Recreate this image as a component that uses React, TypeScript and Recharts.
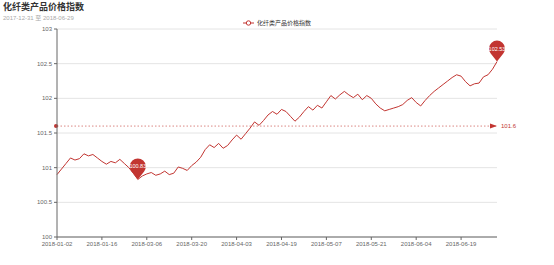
import {
  LineChart,
  Line,
  XAxis,
  YAxis,
  CartesianGrid,
  ReferenceLine,
  ReferenceDot,
} from "recharts";

const TITLE = "化纤类产品价格指数";
const SUBTITLE = "2017-12-31 至 2018-06-29";
const SERIES_NAME = "化纤类产品价格指数";

const dates = [
  "2018-01-02", "2018-01-03", "2018-01-04", "2018-01-05", "2018-01-08", "2018-01-09",
  "2018-01-10", "2018-01-11", "2018-01-12", "2018-01-15", "2018-01-16", "2018-01-17",
  "2018-01-18", "2018-01-19", "2018-01-22", "2018-01-23", "2018-01-24", "2018-01-25",
  "2018-01-26", "2018-03-05", "2018-03-06", "2018-03-07", "2018-03-08", "2018-03-09",
  "2018-03-12", "2018-03-13", "2018-03-14", "2018-03-15", "2018-03-16", "2018-03-19",
  "2018-03-20", "2018-03-21", "2018-03-22", "2018-03-23", "2018-03-26", "2018-03-27",
  "2018-03-28", "2018-03-29", "2018-03-30", "2018-04-02", "2018-04-03", "2018-04-04",
  "2018-04-09", "2018-04-10", "2018-04-11", "2018-04-12", "2018-04-13", "2018-04-16",
  "2018-04-17", "2018-04-18", "2018-04-19", "2018-04-20", "2018-04-23", "2018-04-24",
  "2018-04-25", "2018-04-26", "2018-04-27", "2018-05-02", "2018-05-03", "2018-05-04",
  "2018-05-07", "2018-05-08", "2018-05-09", "2018-05-10", "2018-05-11", "2018-05-14",
  "2018-05-15", "2018-05-16", "2018-05-17", "2018-05-18", "2018-05-21", "2018-05-22",
  "2018-05-23", "2018-05-24", "2018-05-25", "2018-05-28", "2018-05-29", "2018-05-30",
  "2018-05-31", "2018-06-01", "2018-06-04", "2018-06-05", "2018-06-06", "2018-06-07",
  "2018-06-08", "2018-06-11", "2018-06-12", "2018-06-13", "2018-06-14", "2018-06-15",
  "2018-06-19", "2018-06-20", "2018-06-21", "2018-06-22", "2018-06-25", "2018-06-26",
  "2018-06-27", "2018-06-28", "2018-06-29",
];

const values = [
  100.9, 100.98, 101.06, 101.14, 101.11, 101.13, 101.2, 101.17, 101.19, 101.14,
  101.09, 101.05, 101.09, 101.07, 101.12, 101.06, 101.0, 100.92, 100.83, 100.88,
  100.91, 100.93, 100.89, 100.91, 100.95, 100.9, 100.92, 101.01, 100.99, 100.96,
  101.03, 101.08, 101.15, 101.26, 101.33, 101.29, 101.35, 101.28, 101.32, 101.4,
  101.47, 101.41, 101.49, 101.57, 101.66, 101.61, 101.68, 101.76, 101.81, 101.77,
  101.84, 101.81, 101.74, 101.67, 101.73, 101.81, 101.88, 101.83, 101.9, 101.86,
  101.95, 102.04, 101.99, 102.05, 102.1, 102.05, 102.01, 102.06, 101.98, 102.04,
  102.0, 101.92, 101.86, 101.82, 101.84, 101.86, 101.88, 101.91, 101.97, 102.01,
  101.94, 101.89, 101.97, 102.04, 102.1, 102.15, 102.2, 102.25, 102.3, 102.34,
  102.32, 102.24, 102.18, 102.21, 102.22, 102.31, 102.34, 102.42, 102.53,
];

const yTicks = [100, 100.5, 101, 101.5, 102, 102.5, 103];
const AVERAGE = 101.6;

const RED = "#c23531";
const FONT = '"Liberation Sans", "Noto Sans CJK SC", sans-serif';

const data = dates.map((d, i) => ({ date: d, value: values[i] }));

const maxVal = Math.max(...values);
const minVal = Math.min(...values);
const maxDate = dates[values.indexOf(maxVal)];
const minDate = dates[values.indexOf(minVal)];

// echarts-like "pin" balloon pointing down at the data point
function Pin(props: any) {
  const { cx, cy, label } = props;
  if (cx == null || cy == null) return null;
  const r = 8;
  const d = 13;
  const c = r / d;
  const s = Math.sqrt(1 - c * c);
  const lx = cx - r * s;
  const rx = cx + r * s;
  const ty = cy - d + r * c;
  const path = `M${cx},${cy} L${lx},${ty} A${r},${r} 0 1 1 ${rx},${ty} Z`;
  return (
    <g>
      <path d={path} fill={RED} />
      <text
        x={cx}
        y={cy - d}
        textAnchor="middle"
        dominantBaseline="central"
        fontSize={5.5}
        fill="#fff"
        fontFamily={FONT}
      >
        {label}
      </text>
    </g>
  );
}

function AvgLabel(props: any) {
  const { viewBox } = props;
  if (!viewBox) return null;
  const { x, y, width } = viewBox;
  const end = x + width;
  return (
    <g>
      <circle cx={x - 1} cy={y} r={2} fill={RED} />
      <path d={`M${end - 7},${y - 2.5} L${end},${y} L${end - 7},${y + 2.5} Z`} fill={RED} />
      <text x={end + 4} y={y} dominantBaseline="central" fontSize={6} fill={RED} fontFamily={FONT}>
        {AVERAGE}
      </text>
    </g>
  );
}

export default function App() {
  return (
    <div
      style={{
        position: "absolute",
        left: 0,
        top: 0,
        width: 554,
        height: 265,
        background: "#fff",
        fontFamily: FONT,
      }}
    >
      <div style={{ position: "absolute", left: 3, top: 2, fontSize: 9, fontWeight: "bold", color: "#333", lineHeight: "10px" }}>
        {TITLE}
      </div>
      <div style={{ position: "absolute", left: 3, top: 14, fontSize: 6, color: "#aaa", lineHeight: "8px" }}>
        {SUBTITLE}
      </div>
      <div
        style={{
          position: "absolute",
          left: 243,
          top: 19,
          display: "flex",
          alignItems: "center",
          fontSize: 6,
          color: "#333",
          lineHeight: "8px",
        }}
      >
        <svg width={11} height={6} style={{ marginRight: 3 }}>
          <line x1={0} y1={3} x2={11} y2={3} stroke={RED} strokeWidth={1} />
          <circle cx={5.5} cy={3} r={2.2} fill="#fff" stroke={RED} strokeWidth={1} />
        </svg>
        <span>{SERIES_NAME}</span>
      </div>
      <div style={{ position: "absolute", left: 0, top: 0 }}>
        <LineChart width={554} height={265} data={data} margin={{ top: 29, right: 57, bottom: 6, left: 1 }}>
          <CartesianGrid vertical={false} stroke="#e4e4e4" />
          <XAxis
            dataKey="date"
            interval={9}
            height={22}
            tickSize={3}
            tickMargin={2}
            tick={{ fontSize: 6, fill: "#666", fontFamily: FONT }}
            axisLine={{ stroke: "#666" }}
            tickLine={{ stroke: "#666" }}
          />
          <YAxis
            domain={[100, 103]}
            ticks={yTicks}
            width={56}
            tickSize={3}
            tickMargin={2}
            tick={{ fontSize: 6, fill: "#666", fontFamily: FONT }}
            axisLine={{ stroke: "#666" }}
            tickLine={{ stroke: "#666" }}
            tickFormatter={(v: number) => String(v)}
          />
          <ReferenceLine
            y={AVERAGE}
            stroke={RED}
            strokeDasharray="1.5 2"
            strokeWidth={0.6}
            label={<AvgLabel />}
          />
          <Line
            type="linear"
            dataKey="value"
            stroke={RED}
            strokeWidth={1}
            dot={false}
            activeDot={false}
            isAnimationActive={false}
          />
          <ReferenceDot x={maxDate} y={maxVal} shape={(p: any) => <Pin {...p} label={maxVal.toFixed(2)} />} />
          <ReferenceDot x={minDate} y={minVal} shape={(p: any) => <Pin {...p} label={minVal.toFixed(2)} />} />
        </LineChart>
      </div>
    </div>
  );
}
